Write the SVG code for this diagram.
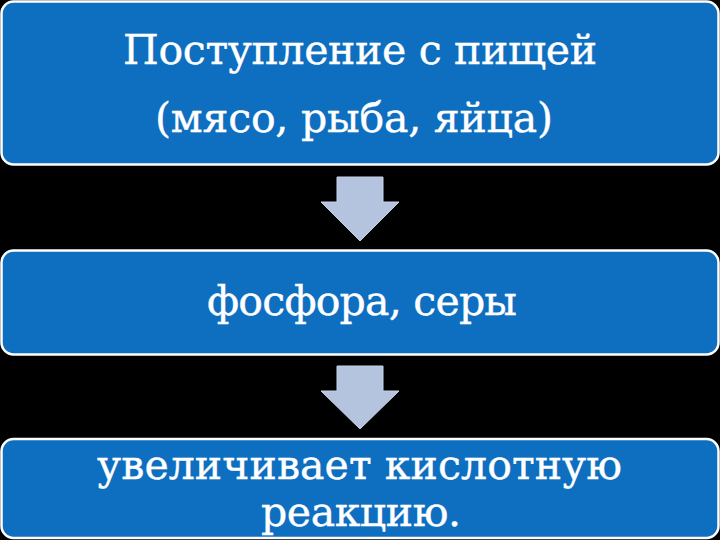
<svg xmlns="http://www.w3.org/2000/svg" width="720" height="540" viewBox="0 0 720 540">
<style>
.box{fill:#0E6EBF;stroke:#FFFFFF;stroke-width:2.5}
.arrow{fill:#B4C3DE;stroke:#C7D2E8;stroke-width:1}
.t{font-family:"DejaVu Serif","Liberation Serif",serif;font-size:41px;fill:#FFFFFF;stroke:#FFFFFF;stroke-width:0.4}
</style>
<rect x="0" y="0" width="720" height="540" fill="#000000"/>
<g id="node1">
<rect class="box" x="1.5" y="1.5" width="717" height="163" rx="12"/>
<text class="t" x="123" y="64" textLength="474">Поступление с пищей</text>
<text class="t" x="155" y="132" textLength="398">(мясо, рыба, яйца)</text>
</g>
<g id="node2">
<rect class="box" x="1.5" y="250.5" width="717" height="104" rx="12"/>
<text class="t" x="207" y="315" textLength="310">фосфора, серы</text>
</g>
<g id="node3">
<rect class="box" x="1.5" y="439" width="717" height="99" rx="12"/>
<text class="t" x="97" y="479" textLength="525">увеличивает кислотную</text>
<text class="t" x="261" y="526" textLength="200">реакцию.</text>
</g>
<g id="connectors">
<polygon class="arrow" points="337,177 383,177 383,202 399,202 360,241 321,202 337,202"/>
<polygon class="arrow" points="337,366 383,366 383,391 399,391 360,429 321,391 337,391"/>
</g>
</svg>
